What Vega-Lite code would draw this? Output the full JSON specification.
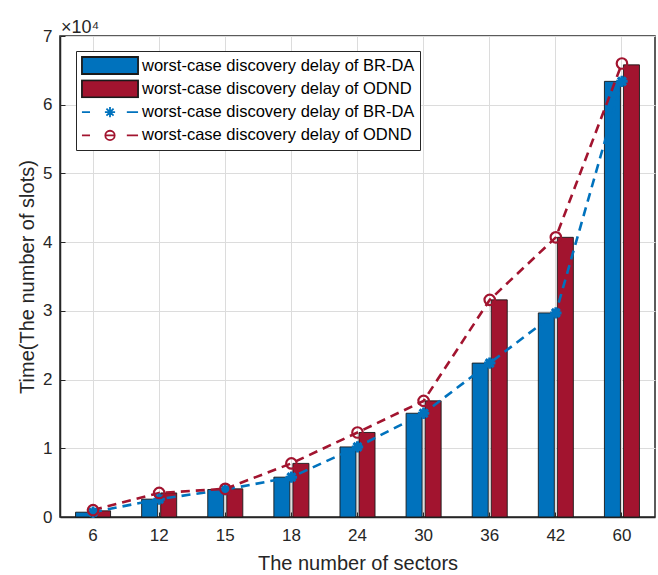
{
  "$schema": "https://vega.github.io/schema/vega-lite/v6.json",
  "width": 595,
  "height": 481,
  "autosize": "none",
  "padding": {"left": 60, "top": 36, "right": 3, "bottom": 58},
  "background": "white",
  "config": {
    "font": "Liberation Sans",
    "view": {"stroke": "#262626", "strokeWidth": 1.5},
    "axis": {
      "labelFont": "Liberation Sans",
      "titleFont": "Liberation Sans",
      "labelColor": "#262626",
      "titleColor": "#262626",
      "titleFontWeight": "normal",
      "labelFontSize": 17,
      "titleFontSize": 20,
      "domainColor": "#262626",
      "domainWidth": 1.5,
      "tickColor": "#262626",
      "tickSize": -5,
      "gridColor": "#dcdcdc",
      "gridWidth": 1
    }
  },
  "title": {
    "text": "×10⁴",
    "anchor": "start",
    "frame": "group",
    "fontSize": 18,
    "fontWeight": "normal",
    "font": "Liberation Sans",
    "color": "#262626",
    "offset": -10,
    "dx": 1
  },
  "datasets": {
    "vals": [
      {"sector": "6", "series": "bar:BR-DA", "value": 700},
      {"sector": "6", "series": "bar:ODND", "value": 900},
      {"sector": "12", "series": "bar:BR-DA", "value": 2600},
      {"sector": "12", "series": "bar:ODND", "value": 3500},
      {"sector": "15", "series": "bar:BR-DA", "value": 4000},
      {"sector": "15", "series": "bar:ODND", "value": 4100},
      {"sector": "18", "series": "bar:BR-DA", "value": 5800},
      {"sector": "18", "series": "bar:ODND", "value": 7800},
      {"sector": "24", "series": "bar:BR-DA", "value": 10200},
      {"sector": "24", "series": "bar:ODND", "value": 12300},
      {"sector": "30", "series": "bar:BR-DA", "value": 15100},
      {"sector": "30", "series": "bar:ODND", "value": 16900},
      {"sector": "36", "series": "bar:BR-DA", "value": 22400},
      {"sector": "36", "series": "bar:ODND", "value": 31600},
      {"sector": "42", "series": "bar:BR-DA", "value": 29700},
      {"sector": "42", "series": "bar:ODND", "value": 40700},
      {"sector": "60", "series": "bar:BR-DA", "value": 63400},
      {"sector": "60", "series": "bar:ODND", "value": 65800},
      {"sector": "6", "series": "line:BR-DA", "value": 700},
      {"sector": "6", "series": "line:ODND", "value": 1000},
      {"sector": "12", "series": "line:BR-DA", "value": 2600},
      {"sector": "12", "series": "line:ODND", "value": 3500},
      {"sector": "15", "series": "line:BR-DA", "value": 4000},
      {"sector": "15", "series": "line:ODND", "value": 4100},
      {"sector": "18", "series": "line:BR-DA", "value": 5800},
      {"sector": "18", "series": "line:ODND", "value": 7800},
      {"sector": "24", "series": "line:BR-DA", "value": 10200},
      {"sector": "24", "series": "line:ODND", "value": 12300},
      {"sector": "30", "series": "line:BR-DA", "value": 15100},
      {"sector": "30", "series": "line:ODND", "value": 16900},
      {"sector": "36", "series": "line:BR-DA", "value": 22400},
      {"sector": "36", "series": "line:ODND", "value": 31600},
      {"sector": "42", "series": "line:BR-DA", "value": 29700},
      {"sector": "42", "series": "line:ODND", "value": 40700},
      {"sector": "60", "series": "line:BR-DA", "value": 63400},
      {"sector": "60", "series": "line:ODND", "value": 66000}
    ],
    "keys": [
      {"series": "bar:BR-DA", "value": null},
      {"series": "bar:ODND", "value": null},
      {"series": "line:BR-DA", "value": null},
      {"series": "line:ODND", "value": null}
    ]
  },
  "layer": [
    {
      "data": {"name": "keys"},
      "mark": {"type": "point", "filled": true, "opacity": 1},
      "encoding": {
        "y": {"field": "value", "type": "quantitative"},
        "fill": {"field": "series", "type": "nominal",
          "scale": {"domain": ["bar:BR-DA","bar:ODND","line:BR-DA","line:ODND"], "range": ["#0072BD","#A2142F","transparent","transparent"]},
          "legend": {
            "title": null,
            "orient": "none",
            "legendX": 16,
            "legendY": 15,
            "strokeColor": "#262626",
            "fillColor": "white",
            "padding": 5,
            "symbolSize": 289,
            "symbolStrokeWidth": 1.8,
            "symbolOffset": 19.5,
            "labelOffset": 22.5,
            "clipHeight": 19,
            "rowPadding": 4.3,
            "labelFontSize": 16.5,
            "labelFont": "Liberation Sans",
            "labelColor": "#000000",
            "labelLimit": 400,
            "labelExpr": "'worst-case discovery delay of ' + split(datum.label, ':')[1]"
          }},
        "stroke": {"field": "series", "type": "nominal",
          "scale": {"domain": ["bar:BR-DA","bar:ODND","line:BR-DA","line:ODND"], "range": ["#1a1a1a","#1a1a1a","#0072BD","#A2142F"]}},
        "shape": {"field": "series", "type": "nominal",
          "scale": {"domain": ["bar:BR-DA","bar:ODND","line:BR-DA","line:ODND"],
            "range": [
              "M-3.3,-1H3.3V1H-3.3Z",
              "M-3.3,-1H3.3V1H-3.3Z",
              "M-3.3,0H-2.35M-0.6,0H0.6M1.98,0H3.3M0,-0.6V0.6M-0.42,-0.42L0.42,0.42M-0.42,0.42L0.42,-0.42",
              "M-3.3,0H-2.35M1.98,0H3.3M-0.55,0H0.55M-0.55,0A0.55,0.55 0 1,0 0.55,0A0.55,0.55 0 1,0 -0.55,0"
            ]}}
      }
    },
    {
      "data": {"name": "vals"},
      "transform": [{"filter": "indexof(datum.series, 'bar:') === 0"}],
      "mark": {"type": "bar", "strokeWidth": 0.9},
      "encoding": {
        "x": {
          "field": "sector", "type": "nominal",
          "scale": {"domain": ["6","12","15","18","24","30","36","42","60"], "paddingInner": 0.47, "paddingOuter": 0.235},
          "axis": {"title": "The number of sectors", "labelAngle": 0, "labelPadding": 15, "titlePadding": 10, "grid": true, "bandPosition": 0.5, "ticks": true}
        },
        "xOffset": {"field": "series", "type": "nominal", "scale": {"domain": ["bar:BR-DA", "bar:ODND"], "paddingInner": 0.158, "paddingOuter": 0}},
        "y": {
          "field": "value", "type": "quantitative",
          "scale": {"domain": [0, 70000], "nice": false},
          "axis": {"title": "Time(The number of slots)", "values": [0,10000,20000,30000,40000,50000,60000,70000], "labelExpr": "datum.value / 10000", "labelPadding": 13, "titlePadding": 5, "grid": true}
        },
        "fill": {"field": "series", "type": "nominal"},
        "stroke": {"field": "series", "type": "nominal"}
      }
    },
    {
      "data": {"name": "vals"},
      "transform": [{"filter": "indexof(datum.series, 'line:') === 0"}],
      "mark": {"type": "line", "strokeWidth": 2.6, "strokeDash": [9, 6]},
      "encoding": {
        "x": {"field": "sector", "type": "nominal"},
        "y": {"field": "value", "type": "quantitative"},
        "stroke": {"field": "series", "type": "nominal"}
      }
    },
    {
      "data": {"name": "vals"},
      "transform": [{"filter": "datum.series === 'line:BR-DA'"}],
      "mark": {"type": "point", "filled": false, "strokeWidth": 3, "size": 130, "opacity": 1,
        "shape": "M-1,0H1M0,-1V1M-0.7,-0.7L0.7,0.7M-0.7,0.7L0.7,-0.7"},
      "encoding": {
        "x": {"field": "sector", "type": "nominal"},
        "y": {"field": "value", "type": "quantitative"},
        "stroke": {"field": "series", "type": "nominal"}
      }
    },
    {
      "data": {"name": "vals"},
      "transform": [{"filter": "datum.series === 'line:ODND'"}],
      "mark": {"type": "point", "filled": false, "strokeWidth": 2.2, "size": 110, "opacity": 1, "shape": "circle"},
      "encoding": {
        "x": {"field": "sector", "type": "nominal"},
        "y": {"field": "value", "type": "quantitative"},
        "stroke": {"field": "series", "type": "nominal"}
      }
    }
  ]
}
